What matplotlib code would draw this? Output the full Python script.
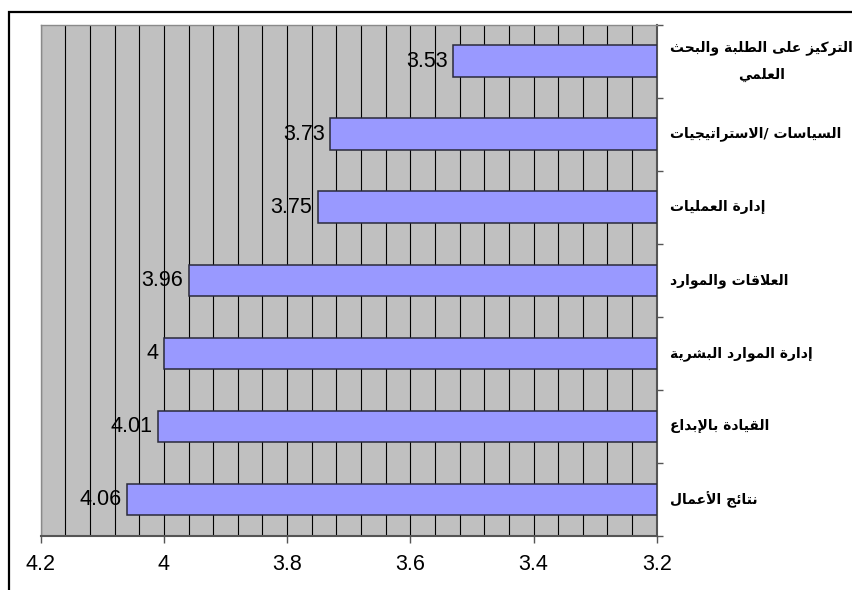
import matplotlib
matplotlib.use("Agg")
import matplotlib.pyplot as plt
from matplotlib.ticker import MultipleLocator, FuncFormatter
from matplotlib.patches import Rectangle
import matplotlib.transforms as mtransforms

# ---------------- data ----------------
categories = [
    "التركيز على الطلبة والبحث\nالعلمي",
    "السياسات /الاستراتيجيات",
    "إدارة العمليات",
    "العلاقات والموارد",
    "إدارة الموارد البشرية",
    "القيادة بالإبداع",
    "نتائج الأعمال",
]
values = [3.53, 3.73, 3.75, 3.96, 4.00, 4.01, 4.06]
value_labels = ["3.53", "3.73", "3.75", "3.96", "4", "4.01", "4.06"]
x_min, x_max = 3.2, 4.2

# ------------- Arabic shaping (display only) -------------
DUAL = {'ئ': 0xFE89, 'ب': 0xFE8F, 'ت': 0xFE95, 'ث': 0xFE99, 'ج': 0xFE9D, 'ح': 0xFEA1,
        'خ': 0xFEA5, 'س': 0xFEB1, 'ش': 0xFEB5, 'ص': 0xFEB9, 'ض': 0xFEBD, 'ط': 0xFEC1,
        'ظ': 0xFEC5, 'ع': 0xFEC9, 'غ': 0xFECD, 'ف': 0xFED1, 'ق': 0xFED5, 'ك': 0xFED9,
        'ل': 0xFEDD, 'م': 0xFEE1, 'ن': 0xFEE5, 'ه': 0xFEE9, 'ي': 0xFEF1}
RIGHT = {'آ': 0xFE81, 'أ': 0xFE83, 'ؤ': 0xFE85, 'إ': 0xFE87, 'ا': 0xFE8D, 'ة': 0xFE93,
         'د': 0xFEA9, 'ذ': 0xFEAB, 'ر': 0xFEAD, 'ز': 0xFEAF, 'و': 0xFEED, 'ى': 0xFEEF}
LAMALEF = {'آ': 0xFEF5, 'أ': 0xFEF7, 'إ': 0xFEF9, 'ا': 0xFEFB}
NONJOIN = {'ء': 0xFE80}


def shape_line(s):
    toks = []
    i = 0
    while i < len(s):
        c = s[i]
        if c == 'ل' and i + 1 < len(s) and s[i + 1] in LAMALEF:
            toks.append(('R', LAMALEF[s[i + 1]]))
            i += 2
            continue
        if c in DUAL:
            toks.append(('D', DUAL[c]))
        elif c in RIGHT:
            toks.append(('R', RIGHT[c]))
        elif c in NONJOIN:
            toks.append(('U', NONJOIN[c]))
        else:
            toks.append(('X', c))
        i += 1
    out = []
    for k, (kind, val) in enumerate(toks):
        if kind == 'X':
            out.append(val)
            continue
        prev = toks[k - 1][0] if k > 0 else 'X'
        nxt = toks[k + 1][0] if k + 1 < len(toks) else 'X'
        jp = prev == 'D' and kind in 'DR'
        jn = kind == 'D' and nxt in 'DR'
        if kind == 'D':
            off = 3 if (jp and jn) else 2 if jn else 1 if jp else 0
        elif kind == 'R':
            off = 1 if jp else 0
        else:
            off = 0
        out.append(chr(val + off))
    return ''.join(reversed(out))


def shape(s):
    return '\n'.join(shape_line(l) for l in s.split('\n'))


# ---------------- figure ----------------
W, H = 853, 590
fig = plt.figure(figsize=(W / 100, H / 100), dpi=100)
fig.patch.set_facecolor('white')

ax_l, ax_r, ax_t, ax_b = 40.7, 656.7, 24.5, 536.0
ax = fig.add_axes([ax_l / W, 1 - ax_b / H, (ax_r - ax_l) / W, (ax_b - ax_t) / H])
ax.set_facecolor('#C0C0C0')

n = len(categories)
ypos = list(range(n))
widths = [v - x_min for v in values]
ax.barh(ypos, widths, left=x_min, height=0.43, color='#9999FF',
        edgecolor='#2a2a3a', linewidth=1.1, zorder=3)

ax.set_xlim(x_max, x_min)
ax.set_ylim(n - 0.5, -0.5)

ax.xaxis.set_major_locator(MultipleLocator(0.2))
ax.xaxis.set_minor_locator(MultipleLocator(0.04))
ax.xaxis.set_major_formatter(FuncFormatter(lambda v, p: f"{v:g}"))
ax.grid(True, which='both', axis='x', color='black', linewidth=0.8, zorder=1)
ax.set_axisbelow(True)
ax.tick_params(axis='x', which='major', direction='out', length=5, width=1,
               color='#555555', labelsize=15.5, pad=8)
ax.tick_params(axis='x', which='minor', length=0)
for lab in ax.get_xticklabels():
    lab.set_fontfamily('Liberation Sans')

ax.yaxis.tick_right()
ax.set_yticks([b - 0.5 for b in range(n + 1)])
ax.set_yticklabels([])
ax.tick_params(axis='y', direction='out', length=4.5, width=1, color='#555555')

for side in ('top', 'left'):
    ax.spines[side].set_color('#8a8a8a')
    ax.spines[side].set_linewidth(1.0)
for side in ('right', 'bottom'):
    ax.spines[side].set_color('#555555')
    ax.spines[side].set_linewidth(1.5)

# value labels
for y, v, t in zip(ypos, values, value_labels):
    ax.annotate(t, xy=(v, y), xytext=(-4, 0), textcoords='offset points',
                ha='right', va='center', fontsize=15.5,
                fontfamily='Liberation Sans', color='black', zorder=4)

# category labels on the right
trans = mtransforms.blended_transform_factory(ax.transAxes, ax.transData)
for y, c in zip(ypos, categories):
    ax.text(1.0 + 13 / (ax_r - ax_l), y, shape(c), transform=trans,
            ha='left', va='center', multialignment='center',
            fontsize=10, fontweight='bold', family=['DejaVu Sans'],
            linespacing=2.1)

# outer frame (cropped at right/bottom)
fig.add_artist(Rectangle((9 / W, -0.2), 1.5, 1.2 - 11.7 / H,
                         transform=fig.transFigure, fill=False,
                         edgecolor='black', linewidth=1.6))

fig.savefig('out.png', dpi=100, facecolor='white')
